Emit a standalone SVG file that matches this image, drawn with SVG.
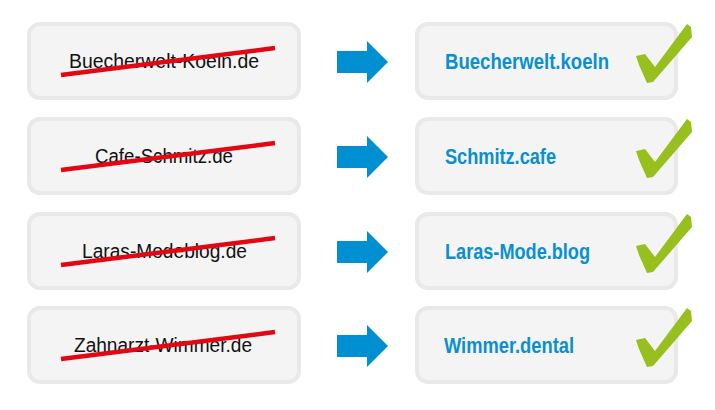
<svg xmlns="http://www.w3.org/2000/svg" width="715" height="410" viewBox="0 0 715 410">
  <style>
    .box { fill: #f4f4f4; stroke: #e9e9e9; stroke-width: 4; }
    .old { font-family: "Liberation Sans", Arial, sans-serif; font-size: 20px; fill: #111111; text-anchor: middle; }
    .new { font-family: "Liberation Sans", Arial, sans-serif; font-size: 22px; font-weight: bold; fill: #0a8fd0; }
    .strike { stroke: #e30613; stroke-width: 4.5; fill: none; }
    .arrow { fill: #0090d2; }
    .check { fill: #97bf1e; }
  </style>
  <defs>
    <polygon id="chk" class="check" points="636,56 645,54 655,67 687,24 691,27 692,37 653,82 647,83 639,65"/>
    <polygon id="arr" class="arrow" points="337,51 367,51 367,41 388,62 367,83 367,73 337,73"/>
  </defs>

  <g id="old1">
    <rect class="box" x="29" y="24" width="270" height="74" rx="11"/>
    <text class="old" x="164" y="68" textLength="190" lengthAdjust="spacingAndGlyphs">Buecherwelt-Koeln.de</text>
    <line class="strike" x1="61" y1="75" x2="275" y2="48"/>
  </g>
  <g id="old2" transform="translate(0,95)">
    <rect class="box" x="29" y="24" width="270" height="74" rx="11"/>
    <text class="old" x="164" y="68" textLength="138" lengthAdjust="spacingAndGlyphs">Cafe-Schmitz.de</text>
    <line class="strike" x1="61" y1="75" x2="275" y2="48"/>
  </g>
  <g id="old3" transform="translate(0,190)">
    <rect class="box" x="29" y="24" width="270" height="74" rx="11"/>
    <text class="old" x="164.5" y="68" textLength="165" lengthAdjust="spacingAndGlyphs">Laras-Modeblog.de</text>
    <line class="strike" x1="61" y1="75" x2="275" y2="48"/>
  </g>
  <g id="old4" transform="translate(0,284)">
    <rect class="box" x="29" y="24" width="270" height="74" rx="11"/>
    <text class="old" x="163" y="68" textLength="178" lengthAdjust="spacingAndGlyphs">Zahnarzt-Wimmer.de</text>
    <line class="strike" x1="61" y1="75" x2="275" y2="48"/>
  </g>

  <g id="connectors">
    <use href="#arr"/>
    <use href="#arr" transform="translate(0,95)"/>
    <use href="#arr" transform="translate(0,190)"/>
    <use href="#arr" transform="translate(0,284)"/>
  </g>

  <g id="new1">
    <rect class="box" x="417" y="24" width="259" height="74" rx="11"/>
    <text class="new" x="445" y="69" textLength="164" lengthAdjust="spacingAndGlyphs">Buecherwelt.koeln</text>
    <use href="#chk"/>
  </g>
  <g id="new2" transform="translate(0,95)">
    <rect class="box" x="417" y="24" width="259" height="74" rx="11"/>
    <text class="new" x="445" y="69" textLength="111" lengthAdjust="spacingAndGlyphs">Schmitz.cafe</text>
    <use href="#chk"/>
  </g>
  <g id="new3" transform="translate(0,190)">
    <rect class="box" x="417" y="24" width="259" height="74" rx="11"/>
    <text class="new" x="445" y="69" textLength="145" lengthAdjust="spacingAndGlyphs">Laras-Mode.blog</text>
    <use href="#chk"/>
  </g>
  <g id="new4" transform="translate(0,284)">
    <rect class="box" x="417" y="24" width="259" height="74" rx="11"/>
    <text class="new" x="444" y="69" textLength="130" lengthAdjust="spacingAndGlyphs">Wimmer.dental</text>
    <use href="#chk"/>
  </g>
</svg>
